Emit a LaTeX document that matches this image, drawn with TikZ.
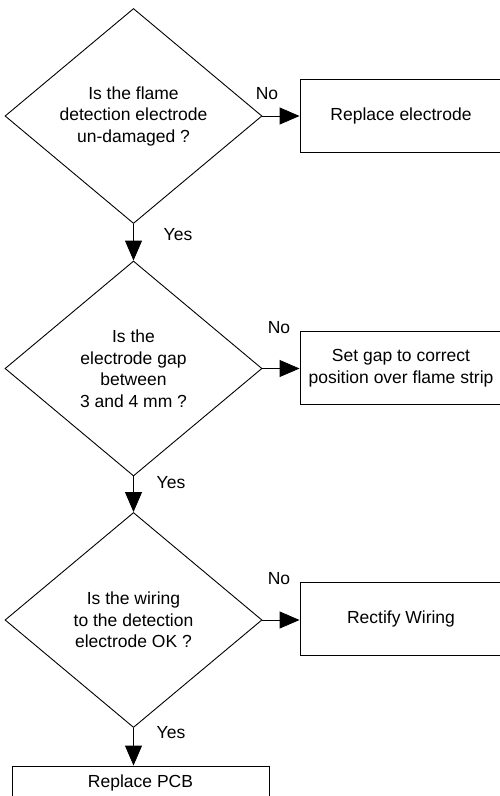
\documentclass[tikz,border=0pt]{standalone}
\usepackage{fontspec}
\setmainfont{Liberation Sans}
\usetikzlibrary{positioning,arrows.meta,shapes.geometric}

\begin{document}
\begin{tikzpicture}[
  x=1pt, y=-1pt,
  font=\fontsize{17.5}{21.5}\selectfont,
  >={Triangle[length=20pt,width=17pt]},
  query/.style={diamond, draw=black, line width=0.9pt, inner sep=0pt, minimum width=257pt, minimum height=215pt, align=center},
  action/.style={rectangle, draw=black, line width=0.9pt, minimum width=202pt, minimum height=73pt, align=center},
  flow/.style={->, draw=black, line width=0.9pt},
  answer/.style={inner sep=0pt}
]
  \useasboundingbox (0,0) rectangle (499,796);
  \node[query] (q1) at (133.5,116) {Is the flame\\detection electrode\\un-damaged ?};
  \node[action] (a1) at (401,116) {Replace electrode};
  \node[query] (q2) at (133.5,368.5) {Is the\\electrode gap\\between\\3 and 4 mm ?};
  \node[action] (a2) at (401,368) {Set gap to correct\\position over flame strip};
  \node[query] (q3) at (133.5,620) {Is the wiring\\to the detection\\electrode OK ?};
  \node[action] (a3) at (401,619) {Rectify Wiring};
  \node[action, minimum width=257pt, minimum height=34pt] (pcb) at (140.5,783) {Replace PCB};

  \node[answer] (no1) at (267,94) {No};
  \node[answer] (no2) at (279,328) {No};
  \node[answer] (no3) at (279,579) {No};
  \node[answer] (yes1) at (178,235) {Yes};
  \node[answer] (yes2) at (171,483) {Yes};
  \node[answer] (yes3) at (171,733) {Yes};

  \draw[flow] (q1.east) -- (a1.west);
  \draw[flow] (q2.east) -- (q2.east -| a2.west);
  \draw[flow] (q3.east) -- (q3.east -| a3.west);
  \draw[flow] (q1.south) -- (q2.north);
  \draw[flow] (q2.south) -- (q3.north);
  \draw[flow] (q3.south) -- (q3.south |- pcb.north);
\end{tikzpicture}
\end{document}
